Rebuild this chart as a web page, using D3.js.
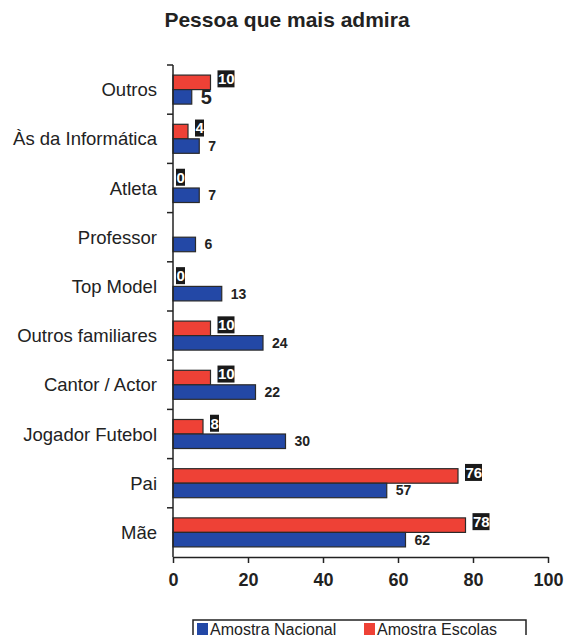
<!DOCTYPE html>
<html>
<head>
<meta charset="utf-8">
<script src="https://cdn.jsdelivr.net/npm/d3@7"></script>
<style>
  body { margin: 0; background: #fff; font-family: "Liberation Sans", Arial, sans-serif; }
  svg { display: block; }
</style>
</head>
<body>
<div class="chart"></div>
<script>
// data (top to bottom)
const categories = ["Outros", "Às da Informática", "Atleta", "Professor", "Top Model",
  "Outros familiares", "Cantor / Actor", "Jogador Futebol", "Pai", "Mãe"];
const nacional = [5, 7, 7, 6, 13, 24, 22, 30, 57, 62];
const escolas = [10, 4, 0, null, 0, 10, 10, 8, 76, 78];
const xTicks = [0, 20, 40, 60, 80, 100];
const seriesNames = ["Amostra Nacional", "Amostra Escolas"];

const blue = "#2348a6", red = "#ee4136";

const margin = {top: 65, right: 19, bottom: 78, left: 173},
  svgWidth = 567, svgHeight = 635,
  width = svgWidth - margin.left - margin.right,
  height = svgHeight - margin.top - margin.bottom;

const x = d3.scaleLinear().domain([0, 100]).range([0, width]);
const y = d3.scaleBand().domain(categories).range([0, height]).paddingInner(0.41).paddingOuter(0.205);

const svg = d3.select(".chart").append("svg")
    .attr("width", svgWidth)
    .attr("height", svgHeight);

svg.append("text")
  .attr("x", 287).attr("y", 27)
  .attr("text-anchor", "middle")
  .style("font-size", "21px").style("font-weight", "bold")
  .style("fill", "#222")
  .text("Pessoa que mais admira");

const g = svg.append("g").attr("transform", "translate(" + margin.left + "," + margin.top + ")");

const bh = y.bandwidth() / 2;

// red bars (Escolas), top half
g.selectAll(".bar-e")
  .data(categories.map((c, i) => ({c: c, v: escolas[i]})).filter(d => d.v !== null && d.v > 0))
  .enter().append("rect")
    .attr("x", 0)
    .attr("y", d => y(d.c))
    .attr("width", d => x(d.v))
    .attr("height", bh)
    .style("fill", red).style("stroke", "#2a2a2a").style("stroke-width", 1.2);

// blue bars (Nacional), bottom half
g.selectAll(".bar-n")
  .data(categories.map((c, i) => ({c: c, v: nacional[i]})))
  .enter().append("rect")
    .attr("x", 0)
    .attr("y", d => y(d.c) + bh)
    .attr("width", d => x(d.v))
    .attr("height", bh)
    .style("fill", blue).style("stroke", "#2a2a2a").style("stroke-width", 1.2);

// blue value labels
g.selectAll(".lab-n")
  .data(categories.map((c, i) => ({c: c, v: nacional[i]})))
  .enter().append("text")
    .attr("x", d => x(d.v) + 9)
    .attr("y", d => y(d.c) + bh * 1.5)
    .attr("dy", "0.36em")
    .style("font-size", d => d.c === "Outros" ? "20px" : "14px")
    .style("font-weight", "bold")
    .style("fill", "#222")
    .text(d => d.v);

// red value labels: white on black box
const redLab = g.selectAll(".lab-e")
  .data(categories.map((c, i) => ({c: c, v: escolas[i]})).filter(d => d.v !== null))
  .enter().append("g")
    .attr("transform", d => "translate(" + (d.v === 0 ? 3 : x(d.v) + 7) + "," + (y(d.c) + bh * 0.5 - 4) + ")");

redLab.append("rect")
  .attr("x", 0).attr("y", -8)
  .attr("width", d => String(d.v).length * 8 + 1)
  .attr("height", 17)
  .style("fill", "#1a1a1a");

redLab.append("text")
  .attr("x", 0.5).attr("y", 0.5)
  .attr("dy", "0.36em")
  .style("font-size", "15px").style("font-weight", "bold")
  .style("fill", "#fff")
  .text(d => d.v);

// x axis
const xAxis = d3.axisBottom(x).tickValues(xTicks).tickSize(6).tickSizeOuter(0).tickPadding(10);
const xg = g.append("g").attr("transform", "translate(0," + height + ")").call(xAxis);
xg.select(".domain").style("stroke", "#222").style("stroke-width", 1.5);
xg.selectAll(".tick line").style("stroke", "#222").style("stroke-width", 1.5);
xg.selectAll(".tick text").style("font-size", "18px").style("font-weight", "bold")
  .style("fill", "#222").style("font-family", "'Liberation Sans', Arial, sans-serif");

// y axis: ticks at category boundaries
g.append("line").attr("x1", 0).attr("x2", 0).attr("y1", 0).attr("y2", height)
  .style("stroke", "#222").style("stroke-width", 1.5);
const step = y.step();
g.selectAll(".ytick")
  .data(categories)
  .enter().append("line")
    .attr("x1", -6).attr("x2", 0)
    .attr("y1", d => y(d) - step * 0.205)
    .attr("y2", d => y(d) - step * 0.205)
    .style("stroke", "#222").style("stroke-width", 1.5);

g.selectAll(".ylab")
  .data(categories)
  .enter().append("text")
    .attr("x", -16)
    .attr("y", d => y(d) + bh)
    .attr("dy", "0.36em")
    .attr("text-anchor", "end")
    .style("font-size", "18.5px")
    .style("fill", "#222")
    .text(d => d);

// legend
const legend = svg.append("g").attr("transform", "translate(193,620)");
legend.append("rect").attr("x", 0).attr("y", 0).attr("width", 333).attr("height", 24)
  .style("fill", "#fff").style("stroke", "#222").style("stroke-width", 1.5);
const legendX = [4, 171];
[blue, red].forEach((col, i) => {
  legend.append("rect").attr("x", legendX[i]).attr("y", 3).attr("width", 11).attr("height", 13)
    .style("fill", col);
  legend.append("text").attr("x", legendX[i] + 13).attr("y", 15)
    .style("font-size", "16px").style("fill", "#222")
    .text(seriesNames[i]);
});
</script>
</body>
</html>
